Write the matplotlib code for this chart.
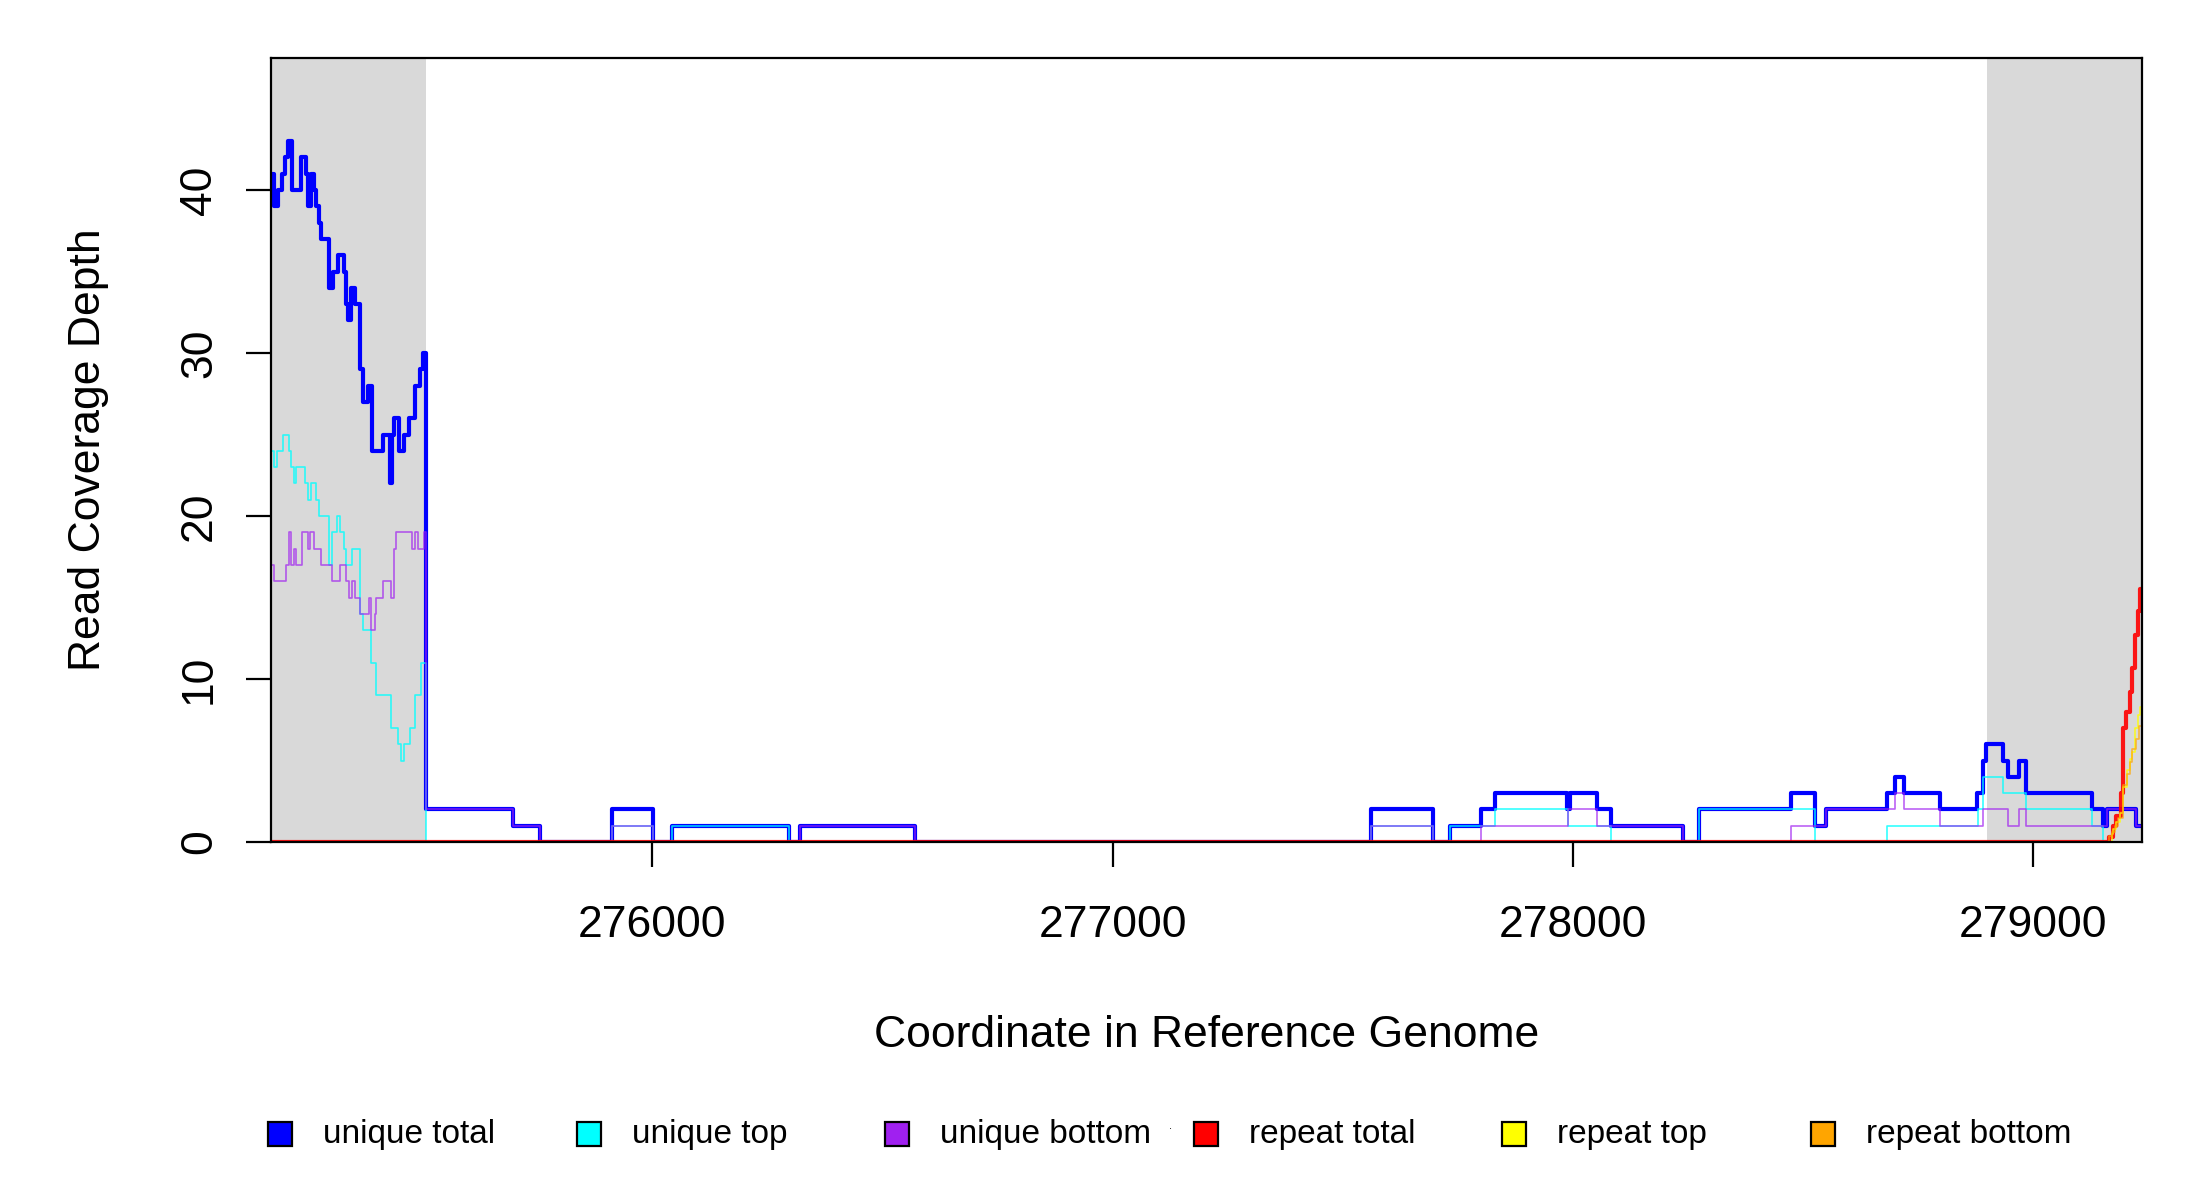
import matplotlib
matplotlib.use('Agg')
import matplotlib.pyplot as plt
from matplotlib.patches import Rectangle

plt.rcParams['font.family'] = ['Liberation Sans', 'DejaVu Sans']

# axis range and flanking (grey) regions, genome coordinates
x_min, x_max = 275172, 279237
flank_regions = [(275172, 275508), (278900, 279237)]

# unique total: step start coordinates and depth
ut_x = [275172, 275177, 275186, 275195, 275202, 275208, 275217, 275237, 275246, 275251,
        275257, 275264, 275269, 275275, 275280, 275298, 275306, 275316, 275330, 275335,
        275338, 275345, 275353, 275364, 275371, 275382, 275390, 275415, 275429, 275435,
        275439, 275450, 275461, 275471, 275484, 275495, 275502, 275508, 275696, 275756,
        275912, 276002, 276042, 276296, 276321, 276571, 277562, 277697, 277734, 277800,
        277831, 277987, 277994, 278052, 278083, 278239, 278275, 278474, 278527, 278551,
        278683, 278701, 278721, 278799, 278880, 278893, 278899, 278936, 278947, 278971,
        278985, 279128, 279152, 279162, 279224]
ut_y = [41, 39, 40, 41, 42, 43, 40, 42, 41, 39,
        41, 40, 39, 38, 37, 34, 35, 36, 35, 33,
        32, 34, 33, 29, 27, 28, 24, 25, 22, 25,
        26, 24, 25, 26, 28, 29, 30, 2, 1, 0,
        2, 0, 1, 0, 1, 0, 2, 0, 1, 2,
        3, 2, 3, 2, 1, 0, 2, 3, 1, 2,
        3, 4, 3, 2, 3, 5, 6, 5, 4, 5,
        3, 2, 1, 2, 1]

# unique top
utop_x = [275172, 275177, 275185, 275197, 275209, 275215, 275221, 275226, 275244, 275251,
          275257, 275269, 275275, 275298, 275304, 275315, 275322, 275330, 275335, 275346,
          275364, 275371, 275389, 275400, 275431, 275448, 275454, 275461, 275472, 275483,
          275496, 275508, 275912, 276002, 276042, 276296, 277562, 277697, 277734, 277831,
          277990, 278083, 278275, 278527, 278683, 278882, 278893, 278936, 278985, 279128,
          279152]
utop_y = [24, 23, 24, 25, 24, 23, 22, 23, 22, 21,
          22, 21, 20, 17, 19, 20, 19, 18, 17, 18,
          14, 13, 11, 9, 7, 6, 5, 6, 7, 9,
          11, 0, 1, 0, 1, 0, 1, 0, 1, 2,
          1, 0, 2, 0, 1, 2, 4, 3, 2, 1,
          0]

# unique bottom
ubot_x = [275172, 275177, 275204, 275209, 275215, 275221, 275226, 275239, 275251, 275256,
          275264, 275280, 275304, 275322, 275335, 275341, 275347, 275353, 275365, 275383,
          275389, 275396, 275400, 275415, 275431, 275438, 275443, 275478, 275485, 275490,
          275504, 275508, 275696, 275756, 275912, 276002, 276321, 276571, 277562, 277697,
          277800, 277990, 278052, 278239, 278474, 278551, 278701, 278721, 278799, 278893,
          278947, 278971, 278985, 279162, 279224]
ubot_y = [17, 16, 17, 19, 17, 18, 17, 19, 18, 19,
          18, 17, 16, 17, 16, 15, 16, 15, 14, 15,
          13, 14, 15, 16, 15, 18, 19, 18, 19, 18,
          19, 2, 1, 0, 1, 0, 1, 0, 1, 0,
          1, 2, 1, 0, 1, 2, 3, 2, 1, 2,
          1, 2, 1, 2, 1]

# repeat total / top / bottom
rt_x = [275172, 279166, 279175, 279182, 279191, 279197, 279203, 279211, 279217, 279222,
        279229, 279234]
rt_y = [0, 0.3, 1.0, 1.6, 3.0, 7.0, 8.0, 9.2, 10.7, 12.7, 14.2, 15.5]

rtop_x = [275172, 279172, 279175, 279182, 279189, 279197, 279204, 279211, 279217, 279222,
          279229, 279234]
rtop_y = [0, 0.5, 0.8, 1.2, 1.8, 3.4, 4.4, 5.1, 5.5, 7.0, 7.8, 8.3]

rbot_x = [275172, 279166, 279172, 279179, 279186, 279197, 279204, 279211, 279217, 279225,
          279232]
rbot_y = [0, 0.4, 0.6, 1.0, 1.5, 3.5, 4.2, 4.9, 5.7, 6.3, 7.1]

series = [
    ('unique total', ut_x, ut_y, '#0000FF', 1.5, 1.0),
    ('unique top', utop_x, utop_y, '#00FFFF', 0.6, 0.8),
    ('unique bottom', ubot_x, ubot_y, '#A020F0', 0.6, 0.7),
    ('repeat total', rt_x, rt_y, '#FF0000', 1.5, 0.9),
    ('repeat top', rtop_x, rtop_y, '#FFFF00', 0.6, 0.8),
    ('repeat bottom', rbot_x, rbot_y, '#FFA500', 0.6, 0.7),
]

fig = plt.figure(figsize=(11, 6), dpi=200)
ax = fig.add_axes([0.1234, 0.2983, 0.8501, 0.6534])

for a, b in flank_regions:
    ax.axvspan(a, b, color='#D9D9D9', lw=0, zorder=0)

for name, xs, ys, col, lw, alpha in series:
    ax.step(xs + [x_max], ys + [ys[-1]], where='post', color=col, lw=lw,
            alpha=alpha, zorder=2)

ax.set_xlim(x_min, x_max)
ax.set_ylim(0, 48.1)
ax.set_xticks([276000, 277000, 278000, 279000])
ax.set_xticklabels(['276000', '277000', '278000', '279000'])
ax.set_yticks([0, 10, 20, 30, 40])
ax.set_yticklabels(['0', '10', '20', '30', '40'], rotation=90, va='center')
ax.tick_params(axis='both', direction='out', length=9, width=0.8, labelsize=16)
ax.tick_params(axis='x', pad=13.5)
ax.tick_params(axis='y', pad=9.5)
for s in ax.spines.values():
    s.set_linewidth(0.8)
    s.set_zorder(3)

fig.text(0.5485, 0.1367, 'Coordinate in Reference Genome', ha='center', va='center',
         fontsize=16)
fig.text(89 / 2200, 0.625, 'Read Coverage Depth', ha='center', va='center',
         rotation=90, fontsize=16)

# legend row
leg_y = 0.055
for i, (name, xs, ys, col, lw, alpha) in enumerate(series):
    cx = (280 + i * 308.6) / 2200
    fig.add_artist(Rectangle((cx - 12 / 2200, leg_y - 12 / 1200), 24 / 2200, 24 / 1200,
                             facecolor=col, edgecolor='black', lw=0.8,
                             transform=fig.transFigure))
    fig.text(cx + 43 / 2200, leg_y, name, ha='left', va='center', fontsize=12)
fig.text(1170 / 2200, 1 - 1126 / 1200, '.', ha='center', va='center', fontsize=4)

fig.savefig('out.png', dpi=200)
